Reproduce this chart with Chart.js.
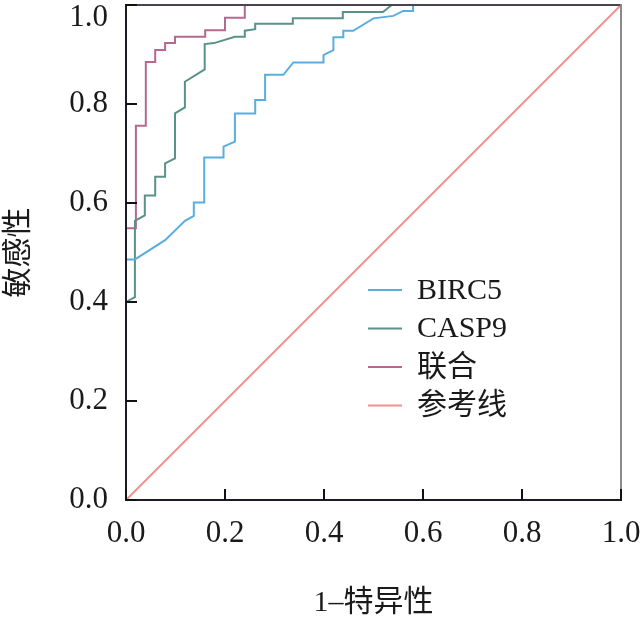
<!DOCTYPE html>
<html lang="zh-CN">
<head>
    <meta charset="UTF-8">
    <title>ROC曲线</title>
    <script src="https://cdn.jsdelivr.net/npm/chart.js"></script>
    <style>
        html, body { margin: 0; padding: 0; background: #fff; }
        .container { width: 641px; height: 623px; }
    </style>
</head>
<body>
<div class="container">
    <canvas id="rocChart" width="641" height="623"></canvas>
</div>
<script>
    // 图例名称
    const seriesNames = ['BIRC5', 'CASP9', '联合', '参考线'];

    // 坐标轴刻度
    const tickValues = [0, 0.2, 0.4, 0.6, 0.8, 1.0];

    // BIRC5 (1-特异性, 敏感性)
    const birc5Fpr = [0, 0, 0.018, 0.079, 0.119, 0.137, 0.137, 0.158, 0.158, 0.197,
        0.197, 0.220, 0.220, 0.261, 0.261, 0.281, 0.281, 0.318, 0.338, 0.399,
        0.399, 0.419, 0.419, 0.439, 0.439, 0.459, 0.5, 0.54, 0.56, 0.58, 0.58, 1];
    const birc5Tpr = [0, 0.486, 0.486, 0.525, 0.564, 0.574, 0.601, 0.601, 0.692, 0.692,
        0.714, 0.724, 0.781, 0.781, 0.808, 0.808, 0.859, 0.859, 0.884, 0.884,
        0.899, 0.909, 0.935, 0.935, 0.948, 0.948, 0.973, 0.978, 0.988, 0.988, 1, 1];

    // CASP9
    const casp9Fpr = [0, 0, 0.018, 0.018, 0.038, 0.038, 0.059, 0.059, 0.079, 0.079,
        0.099, 0.099, 0.119, 0.119, 0.159, 0.159, 0.178, 0.220, 0.240, 0.240,
        0.261, 0.261, 0.337, 0.337, 0.438, 0.438, 0.519, 0.537, 1];
    const casp9Tpr = [0, 0.40, 0.41, 0.564, 0.575, 0.615, 0.615, 0.653, 0.653, 0.680,
        0.690, 0.781, 0.793, 0.845, 0.870, 0.921, 0.923, 0.936, 0.936, 0.948,
        0.951, 0.962, 0.962, 0.973, 0.973, 0.986, 0.986, 1, 1];

    // 联合
    const combFpr = [0, 0, 0.02, 0.02, 0.04, 0.04, 0.059, 0.059, 0.079, 0.079,
        0.099, 0.099, 0.160, 0.160, 0.200, 0.200, 0.240, 0.240, 1];
    const combTpr = [0, 0.549, 0.549, 0.756, 0.756, 0.885, 0.885, 0.909, 0.909, 0.923,
        0.923, 0.936, 0.936, 0.949, 0.949, 0.974, 0.974, 1, 1];

    // 参考线
    const refFpr = [0, 1];
    const refTpr = [0, 1];

    const seriesColors = ['#5aaedf', '#5a9189', '#b4698f', '#f0908f'];

    function toPoints(xs, ys) {
        return xs.map((x, i) => ({ x: x, y: ys[i] }));
    }

    const serifFont = "'Liberation Serif', 'Times New Roman', 'Noto Sans CJK SC', serif";

    // 边框、向内的刻度线和图例
    const framePlugin = {
        id: 'frame',
        afterDatasetsDraw(chart) {
            const { ctx, chartArea: a, scales: { x, y } } = chart;
            ctx.save();
            ctx.lineCap = 'square';
            // 上、右边框
            ctx.lineWidth = 2;
            ctx.strokeStyle = '#4a4152';
            ctx.beginPath();
            ctx.moveTo(a.left, a.top);
            ctx.lineTo(a.right, a.top);
            ctx.stroke();
            ctx.strokeStyle = '#8a8a8a';
            ctx.beginPath();
            ctx.moveTo(a.right, a.top);
            ctx.lineTo(a.right, a.bottom);
            ctx.stroke();
            // 左、下坐标轴
            ctx.strokeStyle = '#1e1b28';
            ctx.beginPath();
            ctx.moveTo(a.left, a.top);
            ctx.lineTo(a.left, a.bottom);
            ctx.lineTo(a.right, a.bottom);
            ctx.stroke();
            // 刻度线
            ctx.lineCap = 'butt';
            ctx.strokeStyle = '#111';
            tickValues.forEach(v => {
                const px = x.getPixelForValue(v);
                ctx.beginPath();
                ctx.moveTo(px, a.bottom);
                ctx.lineTo(px, a.bottom - 11);
                ctx.stroke();
                const py = y.getPixelForValue(v);
                ctx.beginPath();
                ctx.moveTo(a.left, py);
                ctx.lineTo(a.left + 11, py);
                ctx.stroke();
            });
            ctx.restore();
        },
        afterDraw(chart) {
            const ctx = chart.ctx;
            const lx = 368, ly = 290, gap = 38.5;
            ctx.save();
            ctx.font = '30px ' + serifFont;
            ctx.textBaseline = 'middle';
            ctx.fillStyle = '#1a1a1a';
            seriesNames.forEach((name, i) => {
                const yy = ly + i * gap;
                ctx.strokeStyle = seriesColors[i];
                ctx.lineWidth = 2;
                ctx.beginPath();
                ctx.moveTo(lx, yy);
                ctx.lineTo(lx + 34, yy);
                ctx.stroke();
                ctx.fillText(name, lx + 49, yy + 1);
            });
            ctx.restore();
        }
    };

    const seriesData = [
        toPoints(birc5Fpr, birc5Tpr),
        toPoints(casp9Fpr, casp9Tpr),
        toPoints(combFpr, combTpr),
        toPoints(refFpr, refTpr)
    ];

    const ctx = document.getElementById('rocChart').getContext('2d');
    new Chart(ctx, {
        type: 'scatter',
        data: {
            datasets: seriesNames.map((name, i) => ({
                label: name,
                data: seriesData[i],
                showLine: true,
                borderColor: seriesColors[i],
                backgroundColor: seriesColors[i],
                borderWidth: 2,
                pointRadius: 0,
                tension: 0,
                fill: false,
                clip: false
            }))
        },
        options: {
            responsive: false,
            animation: false,
            devicePixelRatio: 1,
            layout: { padding: { top: 5, right: 20, left: 0, bottom: 0 } },
            plugins: {
                legend: { display: false },
                tooltip: { enabled: false }
            },
            scales: {
                x: {
                    type: 'linear',
                    min: 0,
                    max: 1,
                    afterBuildTicks: s => { s.ticks = tickValues.map(v => ({ value: v })); },
                    afterFit: s => {
                        s.height = 123;
                        s.paddingLeft = 0;
                        s.paddingRight = 0;
                    },
                    grid: { display: false, drawTicks: false },
                    border: { display: false },
                    ticks: {
                        padding: 15,
                        color: '#1a1a1a',
                        font: { family: serifFont, size: 31 },
                        callback: v => v.toFixed(1),
                        maxRotation: 0
                    },
                    title: {
                        display: true,
                        text: '1–特异性',
                        color: '#1a1a1a',
                        font: { family: serifFont, size: 30 },
                        padding: { top: 0, bottom: 2 }
                    }
                },
                y: {
                    type: 'linear',
                    min: 0,
                    max: 1,
                    afterBuildTicks: s => { s.ticks = tickValues.map(v => ({ value: v })); },
                    afterFit: s => {
                        s.width = 126;
                        s.paddingTop = 0;
                        s.paddingBottom = 0;
                    },
                    grid: { display: false, drawTicks: false },
                    border: { display: false },
                    ticks: {
                        padding: 18,
                        color: '#1a1a1a',
                        font: { family: serifFont, size: 31, lineHeight: 0.8 },
                        // 顶部标签下移，避免被裁切
                        callback: v => v === 1 ? ['', v.toFixed(1)] : v.toFixed(1)
                    },
                    title: {
                        display: true,
                        text: '敏感性',
                        color: '#1a1a1a',
                        font: { family: serifFont, size: 30 },
                        padding: { top: 1, bottom: 0 }
                    }
                }
            }
        },
        plugins: [framePlugin]
    });
</script>
</body>
</html>
